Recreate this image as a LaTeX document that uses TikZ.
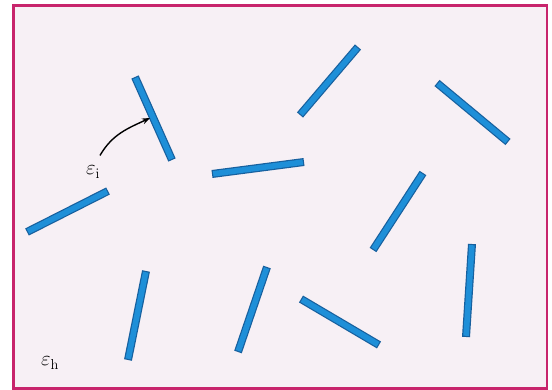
\documentclass[tikz,border=0pt]{standalone}
\usepackage{amsmath}
\usepackage{tikz}
\usepackage{xcolor}
\usetikzlibrary{arrows.meta, positioning}
\definecolor{framepink}{HTML}{C8246C}
\definecolor{paperbg}{HTML}{F7F0F5}
\definecolor{rodblue}{HTML}{1E8FD8}
\definecolor{roddark}{HTML}{17609E}

\begin{document}
\begin{tikzpicture}[x=1pt, y=1pt,
  frame/.style={draw=framepink, line width=2.6pt, fill=paperbg},
  rod/.style={draw=roddark, line width=8pt},
  rodcore/.style={draw=rodblue, line width=5.6pt, shorten <=1.2pt, shorten >=1.2pt},
  lbl/.style={font=\fontsize{20}{24}\selectfont},
  arrow/.style={-{Stealth[length=8pt, width=6pt]}, line width=1.4pt}]

\useasboundingbox (0,0) rectangle (552,390);
\draw[frame] (13.5,1.5) rectangle (547,384.5);

% dispersed rods
\foreach \xa/\ya/\xb/\yb in {135/313/172/230, 27/158/108/199, 212/216/304/228,
    358/343/300/275, 437/307/508/248, 423/217/373/140, 146/119/128/30,
    267/123/238/38, 301/91/379/45, 472/146/466/53} {
  \draw[rod] (\xa,\ya) -- (\xb,\yb);
  \draw[rodcore] (\xa,\ya) -- (\xb,\yb);
}

\node[lbl] (epsi) at (93,218) {$\varepsilon_{\mathrm{i}}$};
\node[lbl] (epsh) at (50,27) {$\varepsilon_{\mathrm{h}}$};

\coordinate (hit) at (150,272);
\draw[arrow] (epsi.north) ++(7,7) to[out=60, in=205] (hit);
\end{tikzpicture}
\end{document}
